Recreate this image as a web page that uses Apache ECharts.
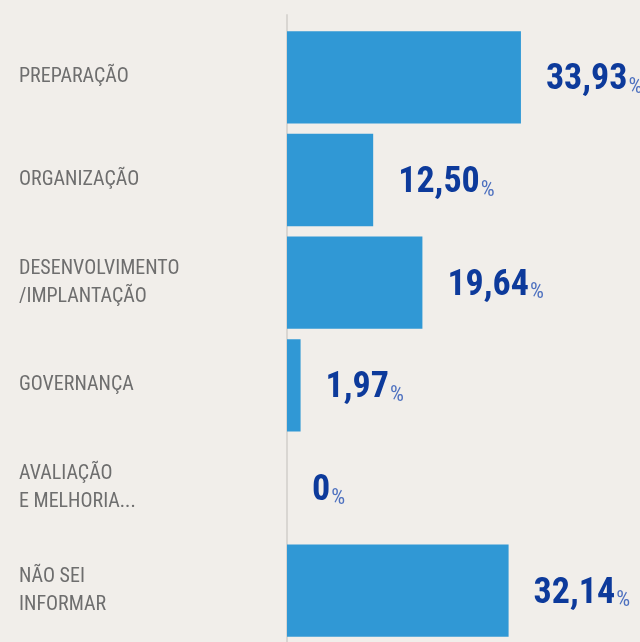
<!DOCTYPE html>
<html>
<head>
<meta charset="utf-8">
<script src="https://cdn.jsdelivr.net/npm/echarts@6/dist/echarts.min.js"></script>
<style>
  html, body { margin: 0; padding: 0; background: #f1eeea; }
  #chart { width: 640px; height: 642px; }
</style>
</head>
<body>
<div id="chart"></div>
<script>
// categorias e valores (%)
var categories = ['PREPARAÇÃO', 'ORGANIZAÇÃO', 'DESENVOLVIMENTO\n/IMPLANTAÇÃO', 'GOVERNANÇA', 'AVALIAÇÃO\nE MELHORIA...', 'NÃO SEI\nINFORMAR'];
var values = [33.93, 12.50, 19.64, 1.97, 0, 32.14];
var valueLabels = ['33,93', '12,50', '19,64', '1,97', '0', '32,14'];

var condensed = '"Liberation Sans Narrow", "Roboto Condensed", "DejaVu Sans Condensed", sans-serif';

var chart = echarts.init(document.getElementById('chart'));
chart.setOption({
  backgroundColor: '#f1eeea',
  animation: false,
  grid: [
    { left: 287, right: 0, top: 26, bottom: -3 },
    // prolonga a linha do eixo acima das barras
    { left: 287, width: 10, top: 15, height: 12 }
  ],
  xAxis: [
    { type: 'value', min: 0, max: 51.2, show: false },
    { type: 'value', gridIndex: 1, show: false }
  ],
  yAxis: [
    {
      type: 'category',
      inverse: true,
      data: categories,
      axisTick: { show: false },
      axisLine: { show: true, lineStyle: { color: '#d9d6d2', width: 2 } },
      axisLabel: {
        align: 'left',
        margin: 268,
        color: '#6e6e6e',
        fontFamily: condensed,
        fontSize: 20,
        lineHeight: 28
      }
    },
    {
      type: 'category',
      gridIndex: 1,
      data: [''],
      axisTick: { show: false },
      axisLabel: { show: false },
      axisLine: { show: true, lineStyle: { color: '#d9d6d2', width: 2 } }
    }
  ],
  series: [{
    type: 'bar',
    data: values,
    barCategoryGap: '10%',
    itemStyle: { color: '#3098d5' },
    label: {
      show: true,
      position: 'right',
      distance: 25,
      offset: [0, 3],
      formatter: function (p) {
        return '{v|' + valueLabels[p.dataIndex] + '}{p|%}';
      },
      rich: {
        v: { color: '#0d3a9b', fontFamily: condensed, fontWeight: 'bold', fontSize: 36, lineHeight: 36, verticalAlign: 'bottom' },
        p: { color: '#4d70bf', fontFamily: condensed, fontSize: 22, lineHeight: 24, verticalAlign: 'bottom', padding: [0, 0, 0, 1] }
      }
    }
  }]
});
</script>
</body>
</html>
